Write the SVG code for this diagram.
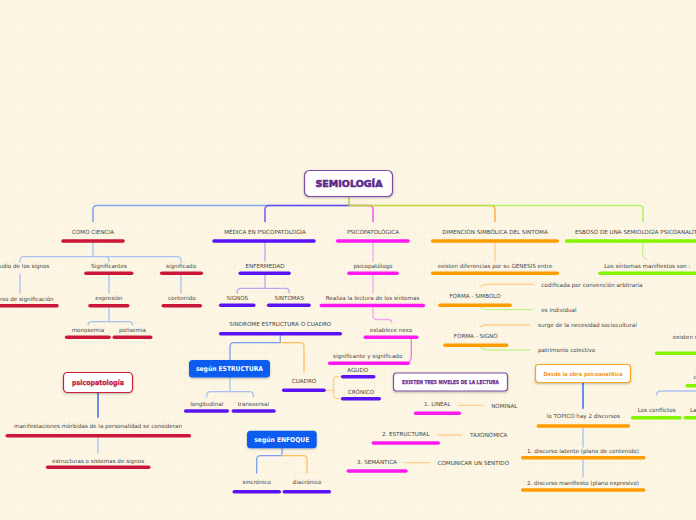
<svg xmlns="http://www.w3.org/2000/svg" width="696" height="520" viewBox="0 0 696 520">
<defs>
<pattern id="grid" width="10" height="10" patternUnits="userSpaceOnUse" x="4.3" y="2.3">
<path d="M10 0H0V10" fill="none" stroke="#f1e6cf" stroke-width="0.7"/>
</pattern>
<filter id="sh" x="-10%" y="-20%" width="120%" height="150%">
<feDropShadow dx="0" dy="1" stdDeviation="0.8" flood-color="#000" flood-opacity="0.25"/>
</filter>
</defs>
<style>
text{font-family:"DejaVu Sans","Liberation Sans",sans-serif;font-size:5.6px;fill:#454545;text-anchor:middle}
.st{text-anchor:start}
.ul{stroke-width:3.6;stroke-linecap:round;fill:none}
.red{stroke:#cc1638}.pur{stroke:#5a12f6}.mag{stroke:#ff18f2}.ora{stroke:#ff9c00}.grn{stroke:#84f400}
.c{fill:none;stroke-width:1.3;stroke-linecap:round}
.m{fill:none;stroke-width:1.6;stroke-opacity:0.75}
.lb{stroke:#a9c2f2}.lp{stroke:#bba6f6}.lm{stroke:#f4a6f2}.lo{stroke:#ffd08c}.lg{stroke:#c4f38e}
.box{fill:#fff;stroke-width:1.2}
.bt{font-weight:bold}
</style>
<rect width="696" height="520" fill="#fdf6e4"/>
<rect width="696" height="520" fill="url(#grid)"/>

<g id="connectors">
<path class="m" stroke="#5b8ef0" d="M349,205.5 H97 Q93,205.5 93,209.5 V222"/>
<path class="m" stroke="#5a2cf0" d="M349,205.5 H269 Q265,205.5 265,209.5 V222"/>
<path class="m" stroke="#ee30ee" d="M349,205.5 H369 Q373,205.5 373,209.5 V222"/>
<path class="m" stroke="#ffa020" d="M349,205.5 H491 Q495,205.5 495,209.5 V222"/>
<path class="m" stroke="#9cf040" d="M349,205.5 H639 Q643,205.5 643,209.5 V222"/>
<path class="m" stroke="#a8c030" d="M349,197 V205.5"/>

<path class="c lb" d="M93,243 V256.7 M93,256.7 H24 Q20,256.7 20,260.7 V262 M93,256.7 H105 Q109,256.7 109,260.7 V262 M93,256.7 H177 Q181,256.7 181,260.7 V262"/>
<path class="c lb" d="M20,274 V293 M109,275 V293 M181,275 V293"/>
<path class="c lb" d="M109,307 V321.7 M109,321.7 H92 Q88,321.7 88,325 M109,321.7 H128.5 Q132.5,321.7 132.5,325"/>

<path class="c lp" d="M265,243 V261 M265,275 V288.3 M265,288.3 H241.3 Q237.3,288.3 237.3,292 V293 M265,288.3 H285.3 Q289.3,288.3 289.3,292 V293"/>
<path class="c" stroke="#78a0f0" d="M280.3,335.5 V342.7 H234 Q230,342.7 230,346.7 V360"/>
<path class="c" stroke="#ffbf60" d="M280.3,342.7 H300 Q304,342.7 304,346.7 V371.7"/>
<path class="c lb" d="M230,377.3 V391.7 M230,391.7 H210.7 Q206.7,391.7 206.7,395.7 V397 M230,391.7 H249.3 Q253.3,391.7 253.3,395.7 V397"/>
<path class="c lo" d="M324,390.3 H333.5 M342.7,376.7 H338 Q333.5,376.7 333.5,381 V394.5 Q333.5,398.7 338,398.7 H342.7"/>
<path class="c" stroke="#78a0f0" d="M282,448.3 V455.7 H260.7 Q256.7,455.7 256.7,459.7 V473"/>
<path class="c" stroke="#ffbf60" d="M282,455.7 H303 Q307,455.7 307,459.7 V473"/>

<path class="c lm" d="M373,243 V261 M373,275 V293 M373,307 V316 Q373,319.5 377,319.5 H388 Q391.7,319.5 391.7,322.5"/>
<path class="c" stroke="#f070ee" d="M411.3,338 V356 Q411.3,363.3 405,363.3"/>
<path class="c lo" d="M458,405.3 H483 M437.7,435 H461.7 M405.3,462.7 H429.3"/>

<path class="c lo" d="M495,243 V261"/>
<path class="c lo" d="M480,287 Q482,284.3 488,284.3 H533.3 M480,327 Q482,325 488,325 H530"/>
<path class="c lg" d="M480,305.7 Q482,309.7 488,309.7 H533.3 M480,345.5 Q482,350 488,350 H530"/>

<path class="c lg" d="M642.7,243 V254 Q642.7,258 647.3,260"/>
<path class="c lb" d="M656.7,395 Q656.7,391 660.7,391 H700"/>

<path class="c" stroke="#1a56e8" d="M583,383 V408.3 M98,392.3 V417.3"/>
<path class="c lb" d="M583,428 V447 M583,459.5 V477 M98,437.5 V453"/>
</g>

<g id="semiologia">
<rect class="box" x="304.5" y="170.5" width="88" height="26" rx="5" stroke="#7b48a8" filter="url(#sh)"/>
<text x="349" y="187.3" class="bt" style="font-size:9.5px;fill:#5b2a8c;stroke:#5b2a8c;stroke-width:0.6" textLength="67" lengthAdjust="spacingAndGlyphs">SEMIOLOGÍA</text>
</g>

<g id="como-ciencia"><text x="93" y="234">COMO CIENCIA</text><line class="ul red" x1="63" y1="241" x2="123" y2="241"/></g>
<g id="estudio"><text x="20" y="268">Estudio de los signos</text></g>
<g id="proceso"><text x="20" y="300.5">proceso de significación</text><line class="ul red" x1="-17" y1="305.7" x2="57" y2="305.7"/></g>
<g id="significantes"><text x="109" y="268">Significantes</text><line class="ul red" x1="86" y1="273.3" x2="131.7" y2="273.3"/></g>
<g id="significado"><text x="181" y="268">significado</text><line class="ul red" x1="161.7" y1="273.3" x2="201.3" y2="273.3"/></g>
<g id="expresion"><text x="109" y="300.3">expresión</text><line class="ul red" x1="90" y1="305.7" x2="127.7" y2="305.7"/></g>
<g id="contenido"><text x="181.8" y="300.3">contenido</text><line class="ul red" x1="163.3" y1="305.7" x2="200.3" y2="305.7"/></g>
<g id="monosemia"><text x="88" y="332">monosemia</text><line class="ul red" x1="66.7" y1="337.3" x2="109" y2="337.3"/></g>
<g id="polisemia"><text x="132.5" y="332">polisemia</text><line class="ul red" x1="114.3" y1="337.3" x2="150.7" y2="337.3"/></g>

<g id="medica"><text x="265" y="234">MÉDICA EN PSICOPATOLOGÍA</text><line class="ul pur" x1="214" y1="241" x2="314" y2="241"/></g>
<g id="enfermedad"><text x="265" y="268">ENFERMEDAD</text><line class="ul pur" x1="240.3" y1="273.3" x2="289" y2="273.3"/></g>
<g id="signos"><text x="237.3" y="300.3">SIGNOS</text><line class="ul pur" x1="220.7" y1="305.3" x2="253.7" y2="305.3"/></g>
<g id="sintomas"><text x="289.3" y="300.3">SINTOMAS</text><line class="ul pur" x1="268.7" y1="305.3" x2="309" y2="305.3"/></g>
<g id="sindrome"><text x="280.3" y="326">SINDROME ESTRUCTURA O CUADRO</text><line class="ul pur" x1="220.7" y1="333.7" x2="340.3" y2="333.7"/></g>
<g id="segun-estructura">
<rect x="189" y="360" width="81" height="17.5" rx="3.5" fill="#0d5bf0" filter="url(#sh)"/>
<text x="229.5" y="371.3" class="bt" style="font-size:6.6px;fill:#fff" textLength="67" lengthAdjust="spacingAndGlyphs">según ESTRUCTURA</text>
</g>
<g id="longitudinal"><text x="206.7" y="405.7">longitudinal</text><line class="ul pur" x1="185.7" y1="411" x2="227.3" y2="411"/></g>
<g id="transversal"><text x="253.3" y="405.7">transversal</text><line class="ul pur" x1="233.3" y1="411" x2="274" y2="411"/></g>
<g id="cuadro"><text x="304" y="383">CUADRO</text><line class="ul pur" x1="283.7" y1="390.3" x2="324" y2="390.3"/></g>
<g id="agudo"><text x="357.7" y="372">AGUDO</text><line class="ul pur" x1="342.7" y1="376.7" x2="373.7" y2="376.7"/></g>
<g id="cronico"><text x="361" y="394">CRÓNICO</text><line class="ul pur" x1="342.7" y1="398.7" x2="379.3" y2="398.7"/></g>
<g id="segun-enfoque">
<rect x="247" y="430.7" width="69.7" height="17.6" rx="3.5" fill="#0d5bf0" filter="url(#sh)"/>
<text x="281.8" y="442" class="bt" style="font-size:6.6px;fill:#fff" textLength="55" lengthAdjust="spacingAndGlyphs">según ENFOQUE</text>
</g>
<g id="sincronico"><text x="256.7" y="484.3">sincrónico</text><line class="ul pur" x1="234.3" y1="491.7" x2="279.3" y2="491.7"/></g>
<g id="diacronico"><text x="307" y="484.3">diacrónico</text><line class="ul pur" x1="284.3" y1="491.7" x2="329.3" y2="491.7"/></g>

<g id="psicopatologica"><text x="373" y="234">PSICOPATOLÓGICA</text><line class="ul mag" x1="337.7" y1="241" x2="408" y2="241"/></g>
<g id="psicopatologo"><text x="373" y="268">psicopatólogo</text><line class="ul mag" x1="349" y1="273.3" x2="397" y2="273.3"/></g>
<g id="realiza"><text x="372.5" y="300.3">Realiza la lectura de los síntomas</text><line class="ul mag" x1="321.3" y1="305.5" x2="423.3" y2="305.5"/></g>
<g id="establece"><text x="391" y="332">establece nexo</text><line class="ul mag" x1="365.3" y1="337.3" x2="416.7" y2="337.3"/></g>
<g id="significante-y"><text x="367.7" y="358">significante y significado</text><line class="ul mag" x1="329.7" y1="363.3" x2="408" y2="363.3"/></g>

<g id="niveles">
<rect class="box" x="393.5" y="373" width="114" height="18" rx="3" stroke="#7e4fa6" filter="url(#sh)"/>
<text x="450.5" y="384" class="bt" style="font-size:5.4px;fill:#6a2a8f;stroke:#6a2a8f;stroke-width:0.25" textLength="97" lengthAdjust="spacingAndGlyphs">EXISTEN TRES NIVELES DE LA LECTURA</text>
</g>
<g id="lineal"><text x="437.3" y="405.7">1. LINEAL</text><line class="ul mag" x1="415.7" y1="413.3" x2="459.3" y2="413.3"/></g>
<g id="nominal"><text x="504.3" y="408">NOMINAL</text></g>
<g id="estructural"><text x="405.7" y="436">2. ESTRUCTURAL</text><line class="ul mag" x1="373.3" y1="443" x2="438.3" y2="443"/></g>
<g id="taxonomica"><text x="488.7" y="437">TAXONÓMICA</text></g>
<g id="semantica"><text x="377" y="464">3. SEMÁNTICA</text><line class="ul mag" x1="348.3" y1="471" x2="406" y2="471"/></g>
<g id="comunicar"><text x="473.3" y="465">COMUNICAR UN SENTIDO</text></g>

<g id="dimencion"><text x="495" y="234">DIMENCIÓN SIMBÓLICA DEL SINTOMA</text><line class="ul ora" x1="432.7" y1="241" x2="557.3" y2="241"/></g>
<g id="existen-diferencias"><text x="495" y="268">existen diferencias por su GENESIS entre</text><line class="ul ora" x1="432.7" y1="273.3" x2="557.3" y2="273.3"/></g>
<g id="forma-simbolo"><text x="475" y="298">FORMA - SIMBOLO</text><line class="ul ora" x1="440" y1="305.3" x2="510" y2="305.3"/></g>
<g id="codificada"><text class="st" x="541.3" y="286.7">codificada por convención arbitraria</text></g>
<g id="individual"><text class="st" x="541.3" y="312">es individual</text></g>
<g id="forma-signo"><text x="475.7" y="337.7">FORMA - SIGNO</text><line class="ul ora" x1="445" y1="345.3" x2="506.7" y2="345.3"/></g>
<g id="surge"><text class="st" x="538" y="327">surge de la necesidad sociocultural</text></g>
<g id="patrimonio"><text class="st" x="538" y="352">patrimonio colectivo</text></g>

<g id="esboso"><text class="st" x="575" y="234">ESBOSO DE UNA SEMIOLOGÍA PSICOANALÍTICA</text><line class="ul grn" x1="566.7" y1="241" x2="720" y2="241"/></g>
<g id="sintomas-manifiestos"><text x="647.3" y="268">Los síntomas manifiestos son :</text><line class="ul grn" x1="600" y1="273.3" x2="720" y2="273.3"/></g>
<g id="existen-s"><text class="st" x="672.7" y="338.7">existen s</text><line class="ul grn" x1="656.7" y1="353.3" x2="720" y2="353.3"/></g>
<g id="c-node"><text class="st" x="693.5" y="379.3">c</text><line class="ul grn" x1="687.3" y1="385.7" x2="720" y2="385.7"/></g>
<g id="conflictos"><text x="656.7" y="412">Los conflictos</text><line class="ul grn" x1="632.7" y1="417.7" x2="680" y2="417.7"/></g>
<g id="la-node"><text class="st" x="690" y="412">La</text><line class="ul grn" x1="685.3" y1="417.7" x2="720" y2="417.7"/></g>

<g id="desde">
<rect class="box" x="535.5" y="364.5" width="95" height="18" rx="3" stroke="#f5a623" filter="url(#sh)"/>
<text x="583" y="375.7" class="bt" style="font-size:5.6px;fill:#f5961b" textLength="79" lengthAdjust="spacingAndGlyphs">Desde la obra psicoanalítica</text>
</g>
<g id="topico"><text x="583.3" y="418">lo TOPICO hay 2 discursos</text><line class="ul ora" x1="538.3" y1="426" x2="628.3" y2="426"/></g>
<g id="latente"><text x="583" y="452.7">1. discurso latente (plano de contenido)</text><line class="ul ora" x1="522.7" y1="457.7" x2="643.7" y2="457.7"/></g>
<g id="manifiesto"><text x="583" y="485.3">2. discurso manifiesto (plano expresivo)</text><line class="ul ora" x1="522.7" y1="490" x2="643.7" y2="490"/></g>

<g id="psicopatologia">
<rect class="box" x="63.5" y="372.5" width="69" height="20" rx="4" stroke="#c8203c" filter="url(#sh)"/>
<text x="98" y="385" class="bt" style="font-size:7px;fill:#c8183a;stroke:#c8183a;stroke-width:0.3" textLength="52" lengthAdjust="spacingAndGlyphs">psicopatología</text>
</g>
<g id="manifestaciones"><text x="98" y="428">manifestaciones mórbidas de la personalidad se consideran</text><line class="ul red" x1="7.3" y1="435.7" x2="189.3" y2="435.7"/></g>
<g id="estructuras"><text x="98" y="463">estructuras o sistemas de signos</text><line class="ul red" x1="47.7" y1="467.3" x2="148.7" y2="467.3"/></g>
</svg>
